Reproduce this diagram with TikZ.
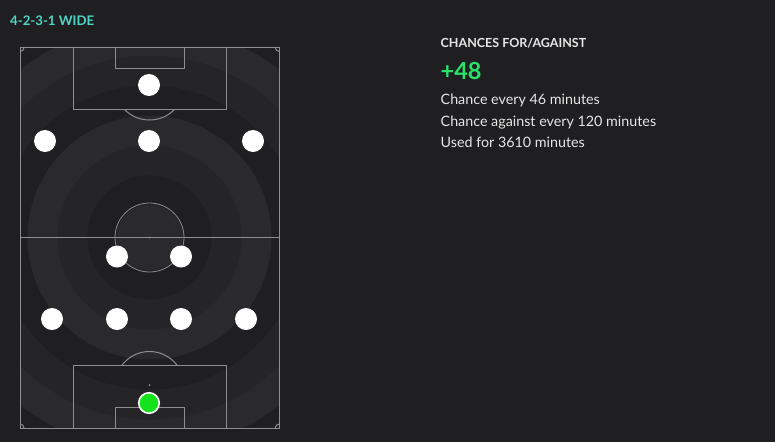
\documentclass[tikz,border=0pt]{standalone}
\usepackage{fontspec}
\setmainfont{Lato}
\definecolor{bgc}{HTML}{1F1F21}
\definecolor{ringL}{HTML}{2A2A2C}
\definecolor{ringM}{HTML}{252527}
\definecolor{linec}{HTML}{8E8E8E}
\definecolor{teal}{HTML}{4FD6C4}
\definecolor{plusgreen}{HTML}{27E36A}
\definecolor{gkgreen}{HTML}{14E31C}
\definecolor{txt}{HTML}{E6E6E6}
\tikzset{
  pline/.style={draw=linec, line width=1pt},
  player/.style={circle, fill=white, minimum size=22pt, inner sep=0pt},
  keeper/.style={circle, fill=gkgreen, draw=white, line width=1.6pt, minimum size=20.5pt, inner sep=0pt},
  lbl/.style={anchor=base west, inner sep=0pt, text=txt},
}
\begin{document}
\begin{tikzpicture}[x=1pt,y=-1pt]
\fill[bgc] (0,0) rectangle (775,442);
\useasboundingbox (0,0) rectangle (775,442);
% rings
\begin{scope}
\clip (20,47.5) rectangle (279.3,428);
\fill[bgc] (149.5,237.5) circle[radius=242];
\fill[ringL] (149.5,237.5) circle[radius=212];
\fill[ringM] (149.5,237.5) circle[radius=182];
\fill[bgc] (149.5,237.5) circle[radius=152];
\fill[ringL] (149.5,237.5) circle[radius=122];
\fill[ringM] (149.5,237.5) circle[radius=92];
\fill[bgc] (149.5,237.5) circle[radius=62];
\fill[ringL] (149.5,237.5) circle[radius=33];
\end{scope}
% pitch lines
\draw[pline] (20,47.5) rectangle (279.3,428);
\draw[pline] (20,237.5) -- (279.3,237.5);
\draw[pline, line width=0.8pt] (149.5,237.5) circle[radius=34.5];
\fill[linec] (149.5,237.5) circle[radius=1];
% top penalty area
\draw[pline] (73.3,47.5) rectangle (226,109);
\draw[pline] (115,47.5) rectangle (184.3,68);
\begin{scope}
\clip (20,109) rectangle (279.3,200);
\draw[pline] (149.5,85) circle[radius=35];
\end{scope}
% bottom penalty area
\draw[pline] (73.3,365) rectangle (226,428);
\draw[pline] (115,407) rectangle (184.3,428);
\fill[linec] (149.5,385) circle[radius=1];
\begin{scope}
\clip (20,300) rectangle (279.3,365);
\draw[pline] (149.5,386) circle[radius=34.5];
\end{scope}
% corner arcs
\begin{scope}
\clip (20,47.5) rectangle (279.3,428);
\draw[pline] (20,47.5) circle[radius=4];
\draw[pline] (279.3,47.5) circle[radius=4];
\draw[pline] (20,428) circle[radius=4];
\draw[pline] (279.3,428) circle[radius=4];
\end{scope}
% players
\node[player] (gk1) at (149,85) {};
\node[player] (a1) at (45,141) {};
\node[player] (a2) at (149,141) {};
\node[player] (a3) at (253,141) {};
\node[player] (m1) at (117,256.5) {};
\node[player] (m2) at (181,256.5) {};
\node[player] (d1) at (52,319) {};
\node[player] (d2) at (117,319) {};
\node[player] (d3) at (181,319) {};
\node[player] (d4) at (246,319) {};
\node[keeper] (gk2) at (149,403) {};
% texts
\node[lbl, text=teal] (title) at (10,25) {\fontsize{13.2}{15}\selectfont\bfseries 4-2-3-1 WIDE};
\node[lbl] (head) at (440.5,47.7) {\fontsize{12.5}{15}\selectfont\bfseries CHANCES FOR/AGAINST};
\node[lbl, text=plusgreen] (num) at (440.5,79.3) {\fontsize{23.5}{26}\selectfont\bfseries +48};
\node[lbl] (l1) at (440.5,104.3) {\fontsize{14.3}{17}\selectfont Chance every 46 minutes};
\node[lbl] (l2) at (440.5,126) {\fontsize{14.3}{17}\selectfont Chance against every 120 minutes};
\node[lbl] (l3) at (440.5,147.7) {\fontsize{14.3}{17}\selectfont Used for 3610 minutes};
\end{tikzpicture}
\end{document}
